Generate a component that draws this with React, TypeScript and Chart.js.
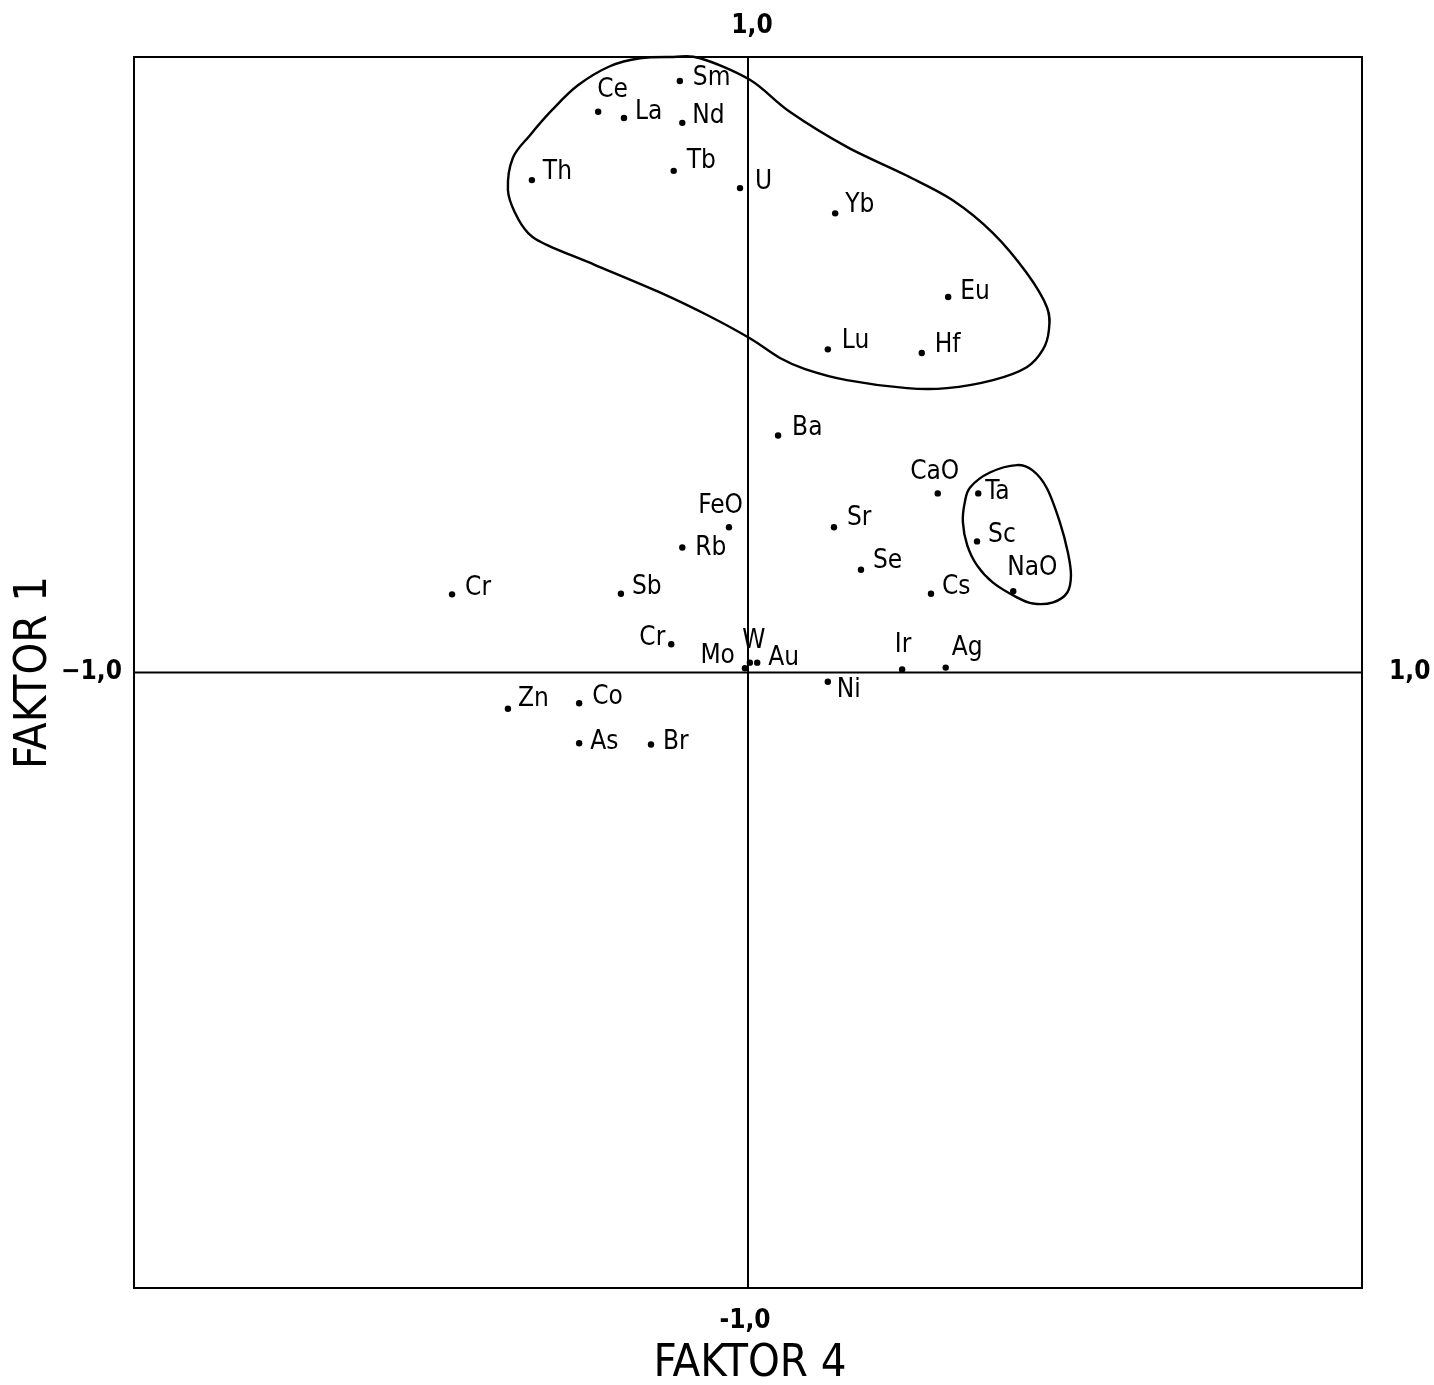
import { useEffect, useRef } from 'react';
import { Chart, registerables } from 'chart.js';

Chart.register(...registerables);

// ---- data ----
const elements = ['Sm', 'Ce', 'La', 'Nd', 'Th', 'Tb', 'U', 'Yb', 'Eu', 'Lu', 'Hf', 'Ba', 'FeO', 'Rb', 'Sr', 'Se', 'CaO', 'Ta', 'Sc', 'NaO', 'Cs', 'Cr', 'Sb', 'Cr', 'Mo', 'W', 'Au', 'Ir', 'Ag', 'Ni', 'Zn', 'Co', 'As', 'Br'];
const faktor4 = [-0.111, -0.244, -0.202, -0.107, -0.352, -0.121, -0.013, 0.142, 0.326, 0.13, 0.283, 0.049, -0.031, -0.107, 0.14, 0.184, 0.309, 0.375, 0.373, 0.432, 0.298, -0.482, -0.207, -0.125, -0.005, 0.003, 0.015, 0.251, 0.322, 0.13, -0.391, -0.275, -0.275, -0.158];
const faktor1 = [0.961, 0.911, 0.901, 0.893, 0.8, 0.815, 0.787, 0.746, 0.61, 0.525, 0.519, 0.385, 0.236, 0.203, 0.236, 0.167, 0.291, 0.291, 0.213, 0.132, 0.128, 0.127, 0.128, 0.046, 0.007, 0.016, 0.016, 0.005, 0.008, -0.015, -0.059, -0.05, -0.115, -0.117];

// enclosing curves (vertices in data units)
const groupAX = [-0.122, -0.078, 0.003, 0.068, 0.161, 0.259, 0.334, 0.399, 0.454, 0.487, 0.49, 0.48, 0.454, 0.399, 0.324, 0.259, 0.161, 0.093, 0.052, 0.003, -0.065, -0.14, -0.249, -0.326, -0.358, -0.379, -0.391, -0.383, -0.355, -0.319, -0.277, -0.225, -0.176];
const groupAY = [1.0, 0.998, 0.963, 0.911, 0.854, 0.807, 0.767, 0.714, 0.649, 0.593, 0.556, 0.524, 0.496, 0.475, 0.462, 0.462, 0.475, 0.493, 0.511, 0.543, 0.58, 0.616, 0.662, 0.694, 0.714, 0.746, 0.784, 0.836, 0.873, 0.914, 0.954, 0.985, 0.998];
const groupBX = [0.438, 0.464, 0.487, 0.508, 0.521, 0.526, 0.52, 0.497, 0.464, 0.438, 0.399, 0.373, 0.357, 0.35, 0.353, 0.362, 0.394];
const groupBY = [0.337, 0.328, 0.299, 0.244, 0.195, 0.158, 0.13, 0.114, 0.112, 0.122, 0.146, 0.174, 0.207, 0.244, 0.276, 0.301, 0.325];

const axisMin = -1;
const axisMax = 1;
const tickTop = '1,0';
const tickBottom = '-1,0';
const tickLeft = '\u22121,0';
const tickRight = '1,0';
const xTitle = 'FAKTOR 4';
const yTitle = 'FAKTOR 1';

// label placement styles: [dx, dy, align]
const labelStyle: [number, number, CanvasTextAlign][] = [
  [13, -3, 'left'], [-1, -22, 'left'], [11, -6, 'left'], [10, -7, 'left'], [11, -8, 'left'],
  [13, -10, 'left'], [15, -6, 'left'], [10, -8, 'left'], [12, -5, 'left'], [14, -8, 'left'],
  [13, -8, 'left'], [14, -7, 'left'], [14, -21, 'right'], [13, 1, 'left'], [13, -9, 'left'],
  [12, -8, 'left'], [-3, -21, 'center'], [7, -1, 'left'], [11, -6, 'left'], [-6, -23, 'left'],
  [11, -6, 'left'], [13, -6, 'left'], [11, -6, 'left'], [-6, -6, 'right'], [-10, -12, 'right'],
  [4, -21, 'center'], [11, -4, 'left'], [1, -24, 'center'], [6, -19, 'left'], [9, 9, 'left'],
  [10, -10, 'left'], [13, -6, 'left'], [11, -1, 'left'], [12, -2, 'left'],
];

const FONT = '"DejaVu Sans Condensed", "DejaVu Sans", sans-serif';
const TICKFONT = '"Liberation Sans Narrow", "DejaVu Sans Condensed", sans-serif';

function closedCurve(ctx: CanvasRenderingContext2D, pts: { x: number; y: number }[]) {
  const n = pts.length;
  ctx.beginPath();
  ctx.moveTo(pts[0].x, pts[0].y);
  for (let i = 0; i < n; i++) {
    const p0 = pts[(i - 1 + n) % n];
    const p1 = pts[i];
    const p2 = pts[(i + 1) % n];
    const p3 = pts[(i + 2) % n];
    ctx.bezierCurveTo(
      p1.x + (p2.x - p0.x) / 6, p1.y + (p2.y - p0.y) / 6,
      p2.x - (p3.x - p1.x) / 6, p2.y - (p3.y - p1.y) / 6,
      p2.x, p2.y,
    );
  }
  ctx.closePath();
  ctx.stroke();
}

const overlayPlugin = {
  id: 'overlay',
  afterDatasetsDraw(chart: any) {
    const { ctx, chartArea: a, scales } = chart;
    const xs = scales.x;
    const ys = scales.y;
    ctx.save();
    ctx.strokeStyle = '#000';
    ctx.fillStyle = '#000';

    // frame
    ctx.lineWidth = 2;
    ctx.strokeRect(a.left, a.top, a.right - a.left, a.bottom - a.top);
    // cross axes
    const x0 = xs.getPixelForValue(0);
    const y0 = ys.getPixelForValue(0);
    ctx.beginPath();
    ctx.moveTo(x0, a.top);
    ctx.lineTo(x0, a.bottom);
    ctx.moveTo(a.left, y0);
    ctx.lineTo(a.right, y0);
    ctx.stroke();

    // group curves
    ctx.lineWidth = 2.4;
    closedCurve(ctx, groupAX.map((v, i) => ({ x: xs.getPixelForValue(v), y: ys.getPixelForValue(groupAY[i]) })));
    closedCurve(ctx, groupBX.map((v, i) => ({ x: xs.getPixelForValue(v), y: ys.getPixelForValue(groupBY[i]) })));

    // point labels
    ctx.font = `26px ${FONT}`;
    ctx.textBaseline = 'middle';
    elements.forEach((name, i) => {
      const px = xs.getPixelForValue(faktor4[i]);
      const py = ys.getPixelForValue(faktor1[i]);
      const [dx, dy, align] = labelStyle[i];
      ctx.textAlign = align;
      ctx.fillText(name, px + dx, py + dy);
    });

    // tick labels
    ctx.font = `bold 26px ${TICKFONT}`;
    ctx.textAlign = 'center';
    ctx.fillText(tickTop, x0 + 4, a.top - 31);
    ctx.fillText(tickBottom, x0 - 3, a.bottom + 33);
    ctx.textAlign = 'right';
    ctx.fillText(tickLeft, a.left - 12, y0);
    ctx.textAlign = 'left';
    ctx.fillText(tickRight, a.right + 27, y0);

    // axis titles
    ctx.font = `45px ${FONT}`;
    ctx.textAlign = 'center';
    ctx.fillText(xTitle, x0 + 2, a.bottom + 76);
    ctx.save();
    ctx.translate(a.left - 100, y0);
    ctx.rotate(-Math.PI / 2);
    ctx.fillText(yTitle, 0, 0);
    ctx.restore();

    ctx.restore();
  },
};

export default function App() {
  const ref = useRef<HTMLCanvasElement | null>(null);
  useEffect(() => {
    document.body.style.margin = '0';
    const canvas = ref.current;
    if (!canvas) return;
    const chart = new Chart(canvas, {
      type: 'scatter',
      data: {
        datasets: [
          {
            label: 'Elemente',
            data: faktor4.map((v, i) => ({ x: v, y: faktor1[i] })),
            pointRadius: 3.2,
            pointBackgroundColor: '#000',
            pointBorderWidth: 0,
            showLine: false,
          },
        ],
      },
      options: {
        responsive: false,
        animation: false,
        devicePixelRatio: 1,
        layout: { padding: { left: 134, top: 57, right: 72, bottom: 97 } },
        plugins: { legend: { display: false }, tooltip: { enabled: false } },
        scales: {
          x: { type: 'linear', min: axisMin, max: axisMax, display: false },
          y: { type: 'linear', min: axisMin, max: axisMax, display: false },
        },
      },
      plugins: [overlayPlugin],
    });
    return () => chart.destroy();
  }, []);
  return (
    <div style={{ width: 1434, height: 1385, background: '#fff' }}>
      <canvas ref={ref} width={1434} height={1385} style={{ display: 'block' }} />
    </div>
  );
}
